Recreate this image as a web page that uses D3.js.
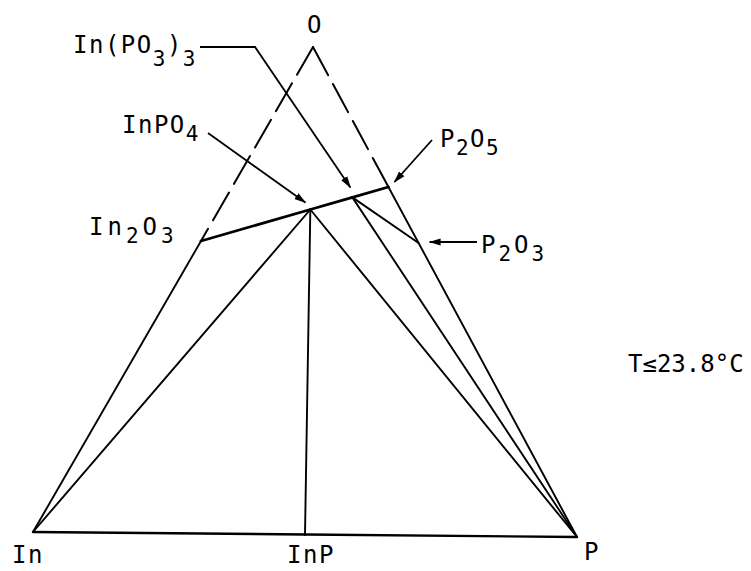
<!DOCTYPE html>
<html>
<head>
<meta charset="utf-8">
<script src="https://cdn.jsdelivr.net/npm/d3@7"></script>
<style>
  body { margin: 0; background: #fff; }
  text { font-family: 'DejaVu Sans Mono', monospace; fill: #000; }
</style>
</head>
<body>
<div id="chart"></div>
<script>
/* global d3 */

// Phases and their atomic fractions (In, P, O)
const phases = ['In', 'P', 'O', 'InP', 'In2O3', 'InPO4', 'In(PO3)3', 'P2O5', 'P2O3']
const fracIn = [1, 0, 0, 1 / 2, 2 / 5, 1 / 6, 1 / 13, 0, 0]
const fracP = [0, 1, 0, 1 / 2, 0, 1 / 6, 3 / 13, 2 / 7, 2 / 5]
const fracO = [0, 0, 1, 0, 3 / 5, 4 / 6, 9 / 13, 5 / 7, 3 / 5]
// label text, "_" marks a subscript digit
const labelText = ['In', 'P', 'O', 'InP', 'In_2O_3', 'InPO_4', 'In(PO_3)_3', 'P_2O_5', 'P_2O_3']

// Tie lines between phases
const edgeLinks = [['In', 'InP'], ['InP', 'P']]
const solidLinks = [['In', 'In2O3'], ['P2O5', 'P'], ['In', 'InPO4'], ['InP', 'InPO4'],
  ['P', 'InPO4'], ['P', 'In(PO3)3'], ['In(PO3)3', 'P2O3']]
const heavyLinks = [['In2O3', 'InPO4'], ['InPO4', 'In(PO3)3'], ['In(PO3)3', 'P2O5']]
const dashedLinks = [['O', 'In2O3'], ['O', 'P2O5']]

// Labels pointed at with arrows
const arrowed = ['In(PO3)3', 'InPO4', 'P2O5', 'P2O3']
const tempNote = 'T≤23.8°C'

// Layout
const width = 751,
  height = 571
const corner = { In: [33, 532], P: [577, 537], O: [313, 47] }
const labelPos = {
  In: [12, 563], P: [584, 560], O: [307, 33], InP: [287, 563],
  In2O3: [89, 235], InPO4: [122, 133], 'In(PO3)3': [73, 53],
  P2O5: [440, 147], P2O3: [481, 253]
}
const spacing = { In2O3: 4, P2O3: 3 }
const subShift = { 'In(PO3)3': 13 }
const leaderStart = {
  'In(PO3)3': [[200, 47], [255, 47]],
  InPO4: [[208, 133]],
  P2O5: [[432, 140]],
  P2O3: [[477, 242]]
}
const tipOffset = { 'In(PO3)3': [-2, -10], InPO4: [-5, -7], P2O5: [6, -5], P2O3: [11, -1] }

// ternary projection built from scales
const base = d3.scaleLinear().domain([0, 1]).range([corner.In, corner.P])
const rise = d3.scaleLinear().domain([0, 1]).range([0, 1])
const project = (a, b, c) => {
  const foot = a + b > 0 ? base(b / (a + b)) : corner.In
  return d3.interpolate(foot, corner.O)(rise(c))
}
const pos = {}
phases.forEach((p, i) => { pos[p] = project(fracIn[i], fracP[i], fracO[i]) })

const svg = d3.select('#chart')
  .append('svg')
  .attr('width', width)
  .attr('height', height)

const line = d3.line()

const drawLinks = (links, w, dash) => {
  svg.append('g')
    .selectAll('path')
    .data(links)
    .enter()
    .append('path')
    .attr('d', (d) => line([pos[d[0]], pos[d[1]]]))
    .attr('fill', 'none')
    .attr('stroke', '#000')
    .attr('stroke-width', w)
    .attr('stroke-linecap', 'round')
    .attr('stroke-dasharray', dash)
}
drawLinks(edgeLinks, 2.4, null)
drawLinks(solidLinks, 1.9, null)
drawLinks(heavyLinks, 2.8, null)
drawLinks(dashedLinks, 2, '32,10')

// arrow head
svg.append('defs')
  .append('marker')
  .attr('id', 'arrow')
  .attr('markerUnits', 'userSpaceOnUse')
  .attr('viewBox', '0 -5 12 10')
  .attr('refX', 11)
  .attr('refY', 0)
  .attr('markerWidth', 12)
  .attr('markerHeight', 10)
  .attr('orient', 'auto')
  .append('path')
  .attr('d', 'M0,-3.6L12,0L0,3.6Z')
  .attr('fill', '#000')

svg.append('g')
  .selectAll('path')
  .data(arrowed)
  .enter()
  .append('path')
  .attr('d', (d) => {
    const tip = [pos[d][0] + tipOffset[d][0], pos[d][1] + tipOffset[d][1]]
    return line(leaderStart[d].concat([tip]))
  })
  .attr('fill', 'none')
  .attr('stroke', '#000')
  .attr('stroke-width', 1.8)
  .attr('marker-end', 'url(#arrow)')

// labels with subscripts
phases.forEach((p, i) => {
  const t = svg.append('text')
    .attr('x', labelPos[p][0])
    .attr('y', labelPos[p][1])
    .attr('font-size', 24)
    .attr('letter-spacing', spacing[p] || 1.5)
  const parts = labelText[i].split(/(_\d)/).filter((s) => s.length)
  let sub = false
  parts.forEach((s) => {
    const isSub = s[0] === '_'
    const shift = subShift[p] || 8
    const span = t.append('tspan')
      .text(isSub ? s.slice(1) : s)
    if (isSub) span.attr('font-size', 21).attr('dy', sub ? 0 : shift)
    else if (sub) span.attr('dy', -shift)
    sub = isSub
  })
})

svg.append('text')
  .attr('x', 628)
  .attr('y', 372)
  .attr('font-size', 24)
  .text(tempNote)
</script>
</body>
</html>
